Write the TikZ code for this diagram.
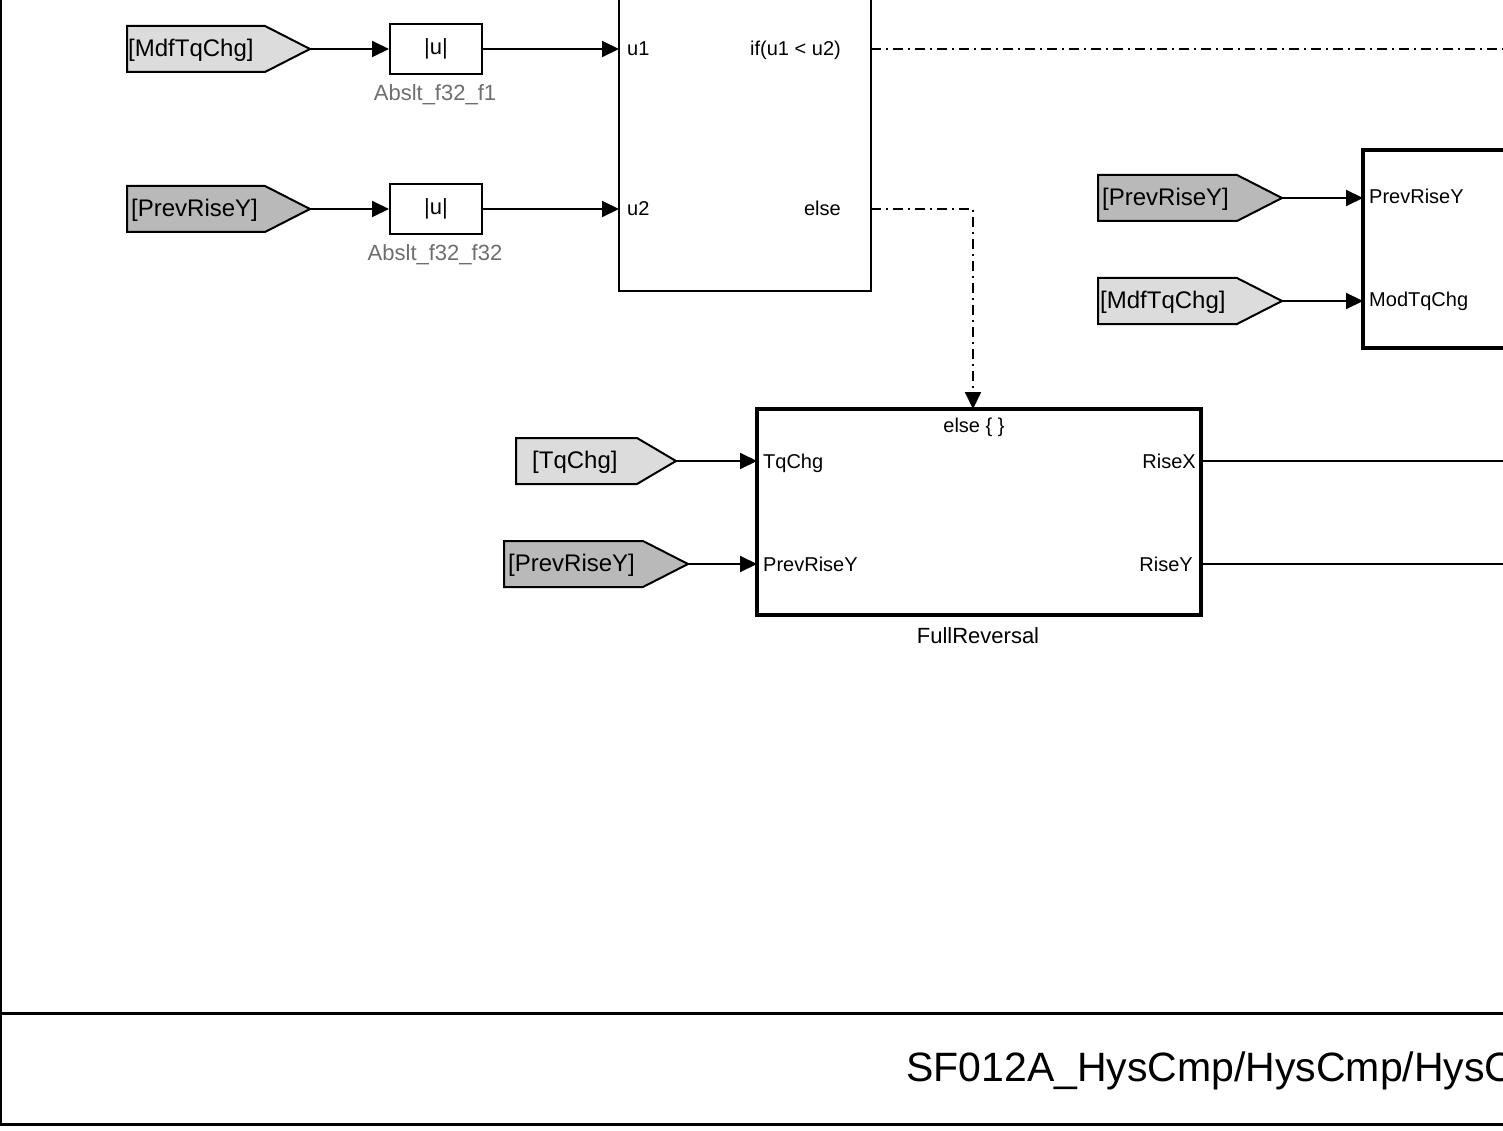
\documentclass[tikz,border=0pt]{standalone}
\usepackage{fontspec}
\setmainfont{Liberation Sans}
\usetikzlibrary{arrows.meta}
\definecolor{taglight}{HTML}{DCDCDC}
\definecolor{tagdark}{HTML}{B9B9B9}
\definecolor{lblgray}{HTML}{6E6E6E}
\tikzset{
  wire/.style={line width=2pt},
  sig/.style={line width=2pt,-{Triangle[length=17pt,width=16pt]}},
  ctrl/.style={line width=2pt,dash pattern=on 10pt off 5pt on 2pt off 5pt},
  ctrlarr/.style={ctrl,-{Triangle[length=17pt,width=16pt]}},
  tagshape/.style={line width=2pt,draw=black},
  tagtxt/.style={anchor=base west,inner sep=0pt,font=\fontsize{24}{28}\selectfont},
  porttxt/.style={inner sep=0pt,font=\fontsize{20}{24}\selectfont},
  abstxt/.style={draw,line width=2pt,minimum width=92pt,minimum height=50pt,inner sep=0pt,font=\fontsize{22}{26}\selectfont},
  namegray/.style={anchor=base,inner sep=0pt,text=lblgray,font=\fontsize{22}{26}\selectfont},
  nameblk/.style={anchor=base,inner sep=0pt,font=\fontsize{22}{26}\selectfont},
  thinblk/.style={draw,line width=2pt,inner sep=0pt,outer sep=0pt},
  thickblk/.style={draw,line width=4pt,inner sep=0pt,outer sep=0pt},
}
% #1 name, #2 left x, #3 top y, #4 slant x, #5 tip x, #6 fill, #7 text, #8 text x
\newcommand\gototag[8]{%
  \path[tagshape,fill=#6] (#2,#3) -- (#4,#3) -- (#5,#3+23) -- (#4,#3+46) -- (#2,#3+46) -- cycle;
  \coordinate (#1) at (#5,#3+23);
  \node[tagtxt] (#1txt) at (#8,#3+30.5) {#7};
}
\begin{document}
\begin{tikzpicture}[x=1pt,y=-1pt]
\useasboundingbox (0,0) rectangle (1503,1131);
\clip (0,0) rectangle (1503,1131);
\fill[white] (0,0) rectangle (1503,1131);

% frame
\draw[line width=2pt] (1,-5) -- (1,1124);
\draw[line width=3pt] (0,1013) -- (1510,1013);
\draw[line width=3pt] (0,1124) -- (1510,1124);
\node[anchor=base west,inner sep=0pt,font=\fontsize{41}{46}\selectfont] (title) at (906,1081) {SF012A\_HysCmp/HysCmp/HysCmp};

% left goto tags and abs blocks
\gototag{gA}{127}{26}{265}{310}{taglight}{[MdfTqChg]}{128}
\gototag{gB}{127}{186}{265}{310}{tagdark}{[PrevRiseY]}{131}
\node[abstxt] (abs1) at (436,49) {|u|};
\node[abstxt] (abs2) at (436,209) {|u|};
\node[namegray] (abs1n) at (435,101) {Abslt\_f32\_f1};
\node[namegray] (abs2n) at (435,261) {Abslt\_f32\_f32};
\draw[sig] (gA) -- (abs1.west);
\draw[sig] (gB) -- (abs2.west);

% if block
\node[thinblk,anchor=north west,minimum width=252pt,minimum height=301pt] (ifblk) at (619,-10) {};
\coordinate (ifu1) at (619,49);
\coordinate (ifu2) at (619,209);
\coordinate (ifo1) at (871,49);
\coordinate (ifo2) at (871,209);
\draw[sig] (abs1.east) -- (ifu1);
\draw[sig] (abs2.east) -- (ifu2);
\node[porttxt,anchor=base west] (pu1) at (627,56) {u1};
\node[porttxt,anchor=base west] (pu2) at (627,216) {u2};
\node[porttxt,anchor=base east] (pif) at (841,56) {if(u1 < u2)};
\node[porttxt,anchor=base east] (pelse) at (841,216) {else};

% full reversal
\node[thickblk,minimum width=444pt,minimum height=206pt] (fr) at (979,512) {};
\node[porttxt,anchor=base] (frhdr) at (974,432) {else \{ \}};
\node[porttxt,anchor=base west] (frin1) at (763,468) {TqChg};
\node[porttxt,anchor=base west] (frin2) at (763,571) {PrevRiseY};
\node[porttxt,anchor=base east] (frout1) at (1196,468) {RiseX};
\node[porttxt,anchor=base east] (frout2) at (1193,571) {RiseY};
\node[nameblk] (frname) at (978,643) {FullReversal};
\gototag{gC}{516}{438}{637}{676}{taglight}{[TqChg]}{532}
\gototag{gD}{504}{541}{643}{688}{tagdark}{[PrevRiseY]}{508}
\draw[sig] (gC) -- (gC -| fr.west);
\draw[sig] (gD) -- (gD -| fr.west);
\coordinate (outX) at (1510,461);
\coordinate (outY) at (1510,564);
\draw[wire] (fr.east |- outX) -- (outX);
\draw[wire] (fr.east |- outY) -- (outY);

% control lines
\coordinate (ifend) at (1510,49);
\coordinate (elsecorner) at (973,209);
\draw[ctrl] (ifo1) -- (ifend);
\draw[ctrlarr] (ifo2) -- (elsecorner) -- (elsecorner |- fr.north);

% right block
\node[thickblk,anchor=north west,minimum width=170pt,minimum height=198pt] (rb) at (1363,150) {};
\node[porttxt,anchor=base west] (rbin1) at (1369,204) {PrevRiseY};
\node[porttxt,anchor=base west] (rbin2) at (1369,307) {ModTqChg};
\gototag{gE}{1098}{175}{1237}{1282}{tagdark}{[PrevRiseY]}{1102}
\gototag{gF}{1098}{278}{1237}{1282}{taglight}{[MdfTqChg]}{1100}
\draw[sig] (gE) -- (gE -| rb.west);
\draw[sig] (gF) -- (gF -| rb.west);
\end{tikzpicture}
\end{document}
